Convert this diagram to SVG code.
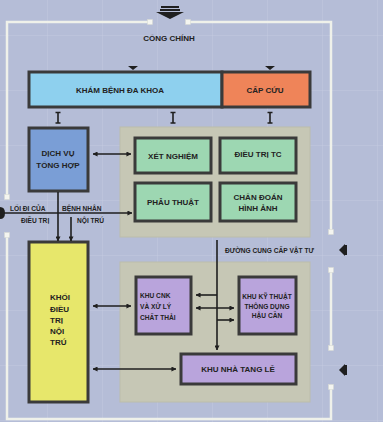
<svg xmlns="http://www.w3.org/2000/svg" width="383" height="422" viewBox="0 0 383 422">
<defs>
<marker id="ah" viewBox="0 0 6 6" refX="5.5" refY="3" markerWidth="5" markerHeight="5" markerUnits="userSpaceOnUse" orient="auto-start-reverse">
<path d="M0,0 L6,3 L0,6 z" fill="#1f1f1f"/>
</marker>
<pattern id="grid" width="55" height="55" patternUnits="userSpaceOnUse" x="-8" y="-20">
<path d="M0,0 V55 M0,0 H55" fill="none" stroke="#c3cae0" stroke-width="1"/>
</pattern>
</defs>
<style>
.box{stroke:#3a3a3a;stroke-width:3}
.panel{fill:#c6c7b5;stroke:#bcbdab;stroke-width:1}
.wall{fill:none;stroke:#eff1ea;stroke-width:2.5}
.sq{fill:#f4f5f0;stroke:#d8dad2;stroke-width:0.5}
.t{font-family:"Liberation Sans",Arial,sans-serif;font-weight:bold;fill:#222;font-size:8px}
.c{text-anchor:middle}
.s{font-size:6.6px}
.ln{fill:none;stroke:#1f1f1f;stroke-width:1.6}
.mk{fill:#1f1f1f}
</style>
<rect width="383" height="422" fill="#b5bdd7"/>
<rect width="383" height="422" fill="url(#grid)"/>

<g id="outer-wall">
<path class="wall" d="M150,22 H7 V197"/>
<path class="wall" d="M7,235 V419 H331 V387"/>
<path class="wall" d="M188,22 H331 V232"/>
<path class="wall" d="M331,270 V348"/>
<rect class="sq" x="147.5" y="19.5" width="5" height="5"/>
<rect class="sq" x="185.5" y="19.5" width="5" height="5"/>
<rect class="sq" x="328.5" y="229.5" width="5" height="5"/>
<rect class="sq" x="328.5" y="267.5" width="5" height="5"/>
<rect class="sq" x="328.5" y="345.5" width="5" height="5"/>
<rect class="sq" x="328.5" y="384.5" width="5" height="5"/>
<rect class="sq" x="4.5" y="194.5" width="5" height="5"/>
<rect class="sq" x="4.5" y="232.5" width="5" height="5"/>
</g>

<g id="gate-arrow">
<rect class="mk" x="161" y="6" width="18" height="2"/>
<rect class="mk" x="160" y="9" width="20" height="2"/>
<path class="mk" d="M156,12 H184 L170,19 z"/>
</g>
<g id="side-arrows">
<path class="mk" d="M345,244 V256 L339,250 z"/>
<rect class="mk" x="345" y="245" width="2" height="10"/>
<path class="mk" d="M345,364 V376 L339,370 z"/>
<rect class="mk" x="345" y="365" width="2" height="10"/>
<path class="mk" d="M0,207 Q5,207 5,213 Q5,219 0,219 z"/>
</g>

<g id="label-gate"><text class="t c" x="169" y="40.5" font-size="8.8">CỔNG CHÍNH</text></g>

<g id="entry-marks">
<path class="mk" d="M128,66 H138 L133,70 z"/>
<path class="mk" d="M265,66 H275 L270,70 z"/>
</g>

<g id="panels">
<rect class="panel" x="120" y="127" width="190" height="110"/>
<rect class="panel" x="120" y="262" width="190" height="140"/>
</g>

<g id="kham-benh"><rect class="box" x="29" y="72" width="193" height="35" fill="#8ed0ee"/>
<text class="t c" x="120" y="93" font-size="8.6">KHÁM BỆNH ĐA KHOA</text></g>
<g id="cap-cuu"><rect class="box" x="222" y="72" width="88" height="35" fill="#ef8459"/>
<text class="t c" x="265" y="93" font-size="8.6">CẤP CỨU</text></g>

<g id="dich-vu"><rect class="box" x="29" y="128" width="59" height="63" fill="#7a9ed6"/>
<text class="t c" x="58" y="156">DỊCH VỤ</text>
<text class="t c" x="58" y="167.5">TỔNG HỢP</text></g>

<g id="xet-nghiem"><rect class="box" x="135" y="138" width="76" height="35" fill="#9dd7b2"/>
<text class="t c" x="173" y="158.5">XÉT NGHIỆM</text></g>
<g id="dieu-tri-tc"><rect class="box" x="220" y="138" width="76" height="35" fill="#9dd7b2"/>
<text class="t c" x="258" y="156.5">ĐIỀU TRỊ TC</text></g>
<g id="phau-thuat"><rect class="box" x="135" y="183" width="76" height="38" fill="#9dd7b2"/>
<text class="t c" x="173" y="205">PHẪU THUẬT</text></g>
<g id="chan-doan"><rect class="box" x="220" y="183" width="76" height="38" fill="#9dd7b2"/>
<text class="t c" x="258" y="200">CHẨN ĐOÁN</text>
<text class="t c" x="258" y="210.5">HÌNH ẢNH</text></g>

<g id="khoi-dieu-tri"><rect class="box" x="29" y="242" width="59" height="160" fill="#e7e76b"/>
<text class="t" x="50" y="300">KHỐI</text>
<text class="t" x="50" y="311.5">ĐIỀU</text>
<text class="t" x="50" y="322.5">TRỊ</text>
<text class="t" x="50" y="333.5">NỘI</text>
<text class="t" x="50" y="345">TRÚ</text></g>

<g id="khu-cnk"><rect class="box" x="136" y="277" width="55" height="57" fill="#b9a4dc"/>
<text class="t s" x="140" y="297.5">KHU CNK</text>
<text class="t s" x="140" y="308.5">VÀ XỬ LÝ</text>
<text class="t s" x="140" y="319.5">CHẤT THẢI</text></g>
<g id="khu-ky-thuat"><rect class="box" x="239" y="277" width="57" height="57" fill="#b9a4dc"/>
<text class="t s c" x="267" y="299" font-size="6.2">KHU KỸ THUẬT</text>
<text class="t s c" x="267" y="308.5" font-size="6.2">THÔNG DỤNG</text>
<text class="t s c" x="267" y="318" font-size="6.2">HẬU CẦN</text></g>
<g id="nha-tang-le"><rect class="box" x="181" y="354" width="115" height="30" fill="#b9a4dc"/>
<text class="t c" x="238" y="372">KHU NHÀ TANG LỄ</text></g>

<g id="labels">
<text class="t s" x="10" y="210.5">LỐI ĐI CỦA</text>
<text class="t s" x="62" y="210.5">BỆNH NHÂN</text>
<text class="t s" x="21" y="223">ĐIỀU TRỊ</text>
<text class="t s" x="77" y="223">NỘI TRÚ</text>
<text class="t s" x="225" y="252.5">ĐƯỜNG CUNG CẤP VẬT TƯ</text>
</g>

<g id="connectors">
<path class="ln" d="M58,112.5 V123 M55.5,112.5 H60.5 M55.5,123 H60.5"/>
<path class="ln" d="M173,112.5 V123 M170.5,112.5 H175.5 M170.5,123 H175.5"/>
<path class="ln" d="M270,112.5 V123 M267.5,112.5 H272.5 M267.5,123 H272.5"/>
<line class="ln" x1="93" y1="154" x2="131" y2="154" marker-start="url(#ah)" marker-end="url(#ah)"/>
<line class="ln" x1="4" y1="213" x2="132" y2="213" marker-end="url(#ah)"/>
<line class="ln" x1="58" y1="192" x2="58" y2="241" marker-end="url(#ah)"/>
<line class="ln" x1="71" y1="217" x2="71" y2="241" marker-end="url(#ah)"/>
<line class="ln" x1="93" y1="306" x2="131" y2="306" marker-start="url(#ah)" marker-end="url(#ah)"/>
<line class="ln" x1="93" y1="369" x2="176" y2="369" marker-start="url(#ah)" marker-end="url(#ah)"/>
<line class="ln" x1="217" y1="240" x2="217" y2="350" marker-end="url(#ah)"/>
<line class="ln" x1="217" y1="295" x2="196" y2="295" marker-end="url(#ah)"/>
<line class="ln" x1="196" y1="308" x2="234" y2="308" marker-start="url(#ah)" marker-end="url(#ah)"/>
<line class="ln" x1="217" y1="320" x2="234" y2="320" marker-end="url(#ah)"/>
</g>
</svg>
